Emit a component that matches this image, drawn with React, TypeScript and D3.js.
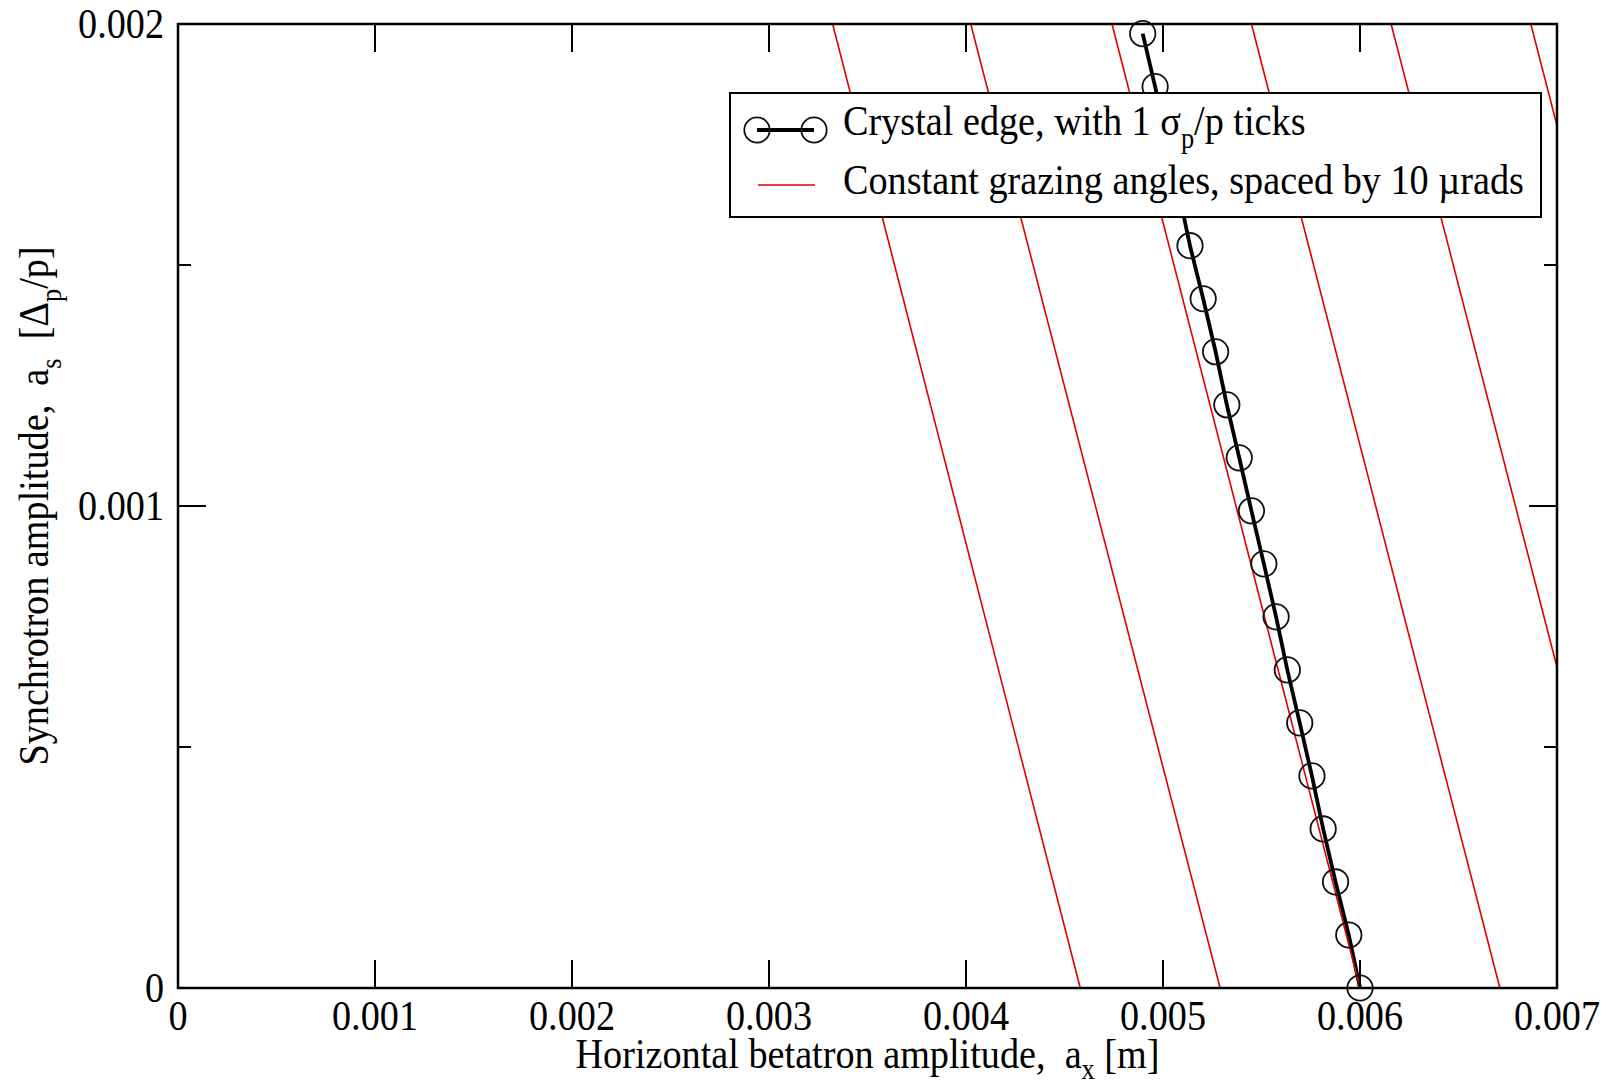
import React from "react";
import * as d3 from "d3";

const xTicks = [0, 0.001, 0.002, 0.003, 0.004, 0.005, 0.006, 0.007];
const xTickLabels = ["0", "0.001", "0.002", "0.003", "0.004", "0.005", "0.006", "0.007"];
const yMajorTicks = [0, 0.001, 0.002];
const yTickLabels = ["0", "0.001", "0.002"];
const yMinorTicks = [0.0005, 0.0015];

// Crystal edge, with 1 sigma_p/p ticks
const crystalX = [
  0.006, 0.005943, 0.005876, 0.005813, 0.005756, 0.005694, 0.005631, 0.005574, 0.005512, 0.005449,
  0.005387, 0.005324, 0.005267, 0.005204, 0.005137, 0.00508, 0.00502, 0.00496, 0.004897,
];
const crystalY = [
  0, 0.00011, 0.00022, 0.00033, 0.00044, 0.00055, 0.00066, 0.00077, 0.00088, 0.00099,
  0.0011, 0.00121, 0.00132, 0.00143, 0.00154, 0.00165, 0.00176, 0.00187, 0.00198,
];

// Constant grazing angles (x at a_s = 0 and at a_s = 0.002)
const grazingBottomX = [0.00458, 0.00529, 0.006, 0.00671, 0.00742, 0.00813];
const grazingTopX = [0.003323, 0.004024, 0.004741, 0.005449, 0.006158, 0.006867];
const grazingY = [0, 0.002];

const W = 1606;
const H = 1085;
const FONT = "'Liberation Serif', 'Times New Roman', serif";
const FS = 42;
const SUB = 29;
const SUBDY = 13;
const SX = 0.91;
const RED = "#e00000";

function T({
  x,
  y,
  anchor = "start",
  rotate = 0,
  children,
}: {
  x: number;
  y: number;
  anchor?: string;
  rotate?: number;
  children: React.ReactNode;
}) {
  return (
    <text
      transform={`translate(${x},${y}) rotate(${rotate}) scale(${SX},1)`}
      textAnchor={anchor}
      fontSize={FS}
      fill="#000"
      style={{ whiteSpace: "pre" }}
    >
      {children}
    </text>
  );
}

export default function App() {
  const x = d3.scaleLinear().domain([0, 0.007]).range([178, 1557]);
  const y = d3.scaleLinear().domain([0, 0.002]).range([988, 24]);
  const [x0, x1] = x.range();
  const [y0, y1] = y.range();

  const line = d3
    .line<[number, number]>()
    .x((d) => x(d[0]))
    .y((d) => y(d[1]));

  const crystalPts: [number, number][] = crystalX.map((v, i) => [v, crystalY[i]]);
  const grazingLines: [number, number][][] = grazingBottomX.map((b, i) => [
    [b, grazingY[0]],
    [grazingTopX[i], grazingY[1]],
  ]);

  const majorLen = 28;
  const minorLen = 13;

  return (
    <svg
      width={W}
      height={H}
      style={{ position: "absolute", left: 0, top: 0, display: "block", background: "#fff" }}
      fontFamily={FONT}
    >
      <rect x={0} y={0} width={W} height={H} fill="#fff" />
      <defs>
        <clipPath id="plotclip">
          <rect x={x0} y={y1} width={x1 - x0} height={y0 - y1} />
        </clipPath>
      </defs>

      {/* crystal edge line */}
      <path
        d={line(crystalPts) || ""}
        fill="none"
        stroke="#000"
        strokeWidth={3.8}
        clipPath="url(#plotclip)"
      />

      {/* grazing angle lines */}
      <g clipPath="url(#plotclip)">
        {grazingLines.map((pts, i) => (
          <path key={i} d={line(pts) || ""} fill="none" stroke={RED} strokeWidth={1.6} />
        ))}
      </g>

      {/* circles */}
      {crystalPts.map((p, i) => (
        <circle
          key={i}
          cx={x(p[0])}
          cy={y(p[1])}
          r={12.7}
          fill="none"
          stroke="#111"
          strokeWidth={1.8}
        />
      ))}

      {/* frame */}
      <rect x={x0} y={y1} width={x1 - x0} height={y0 - y1} fill="none" stroke="#000" strokeWidth={2.5} />

      {/* x ticks */}
      {xTicks.map((t, i) => (
        <g key={"xt" + i}>
          <line x1={x(t)} x2={x(t)} y1={y0} y2={y0 - majorLen} stroke="#000" strokeWidth={2} />
          <line x1={x(t)} x2={x(t)} y1={y1} y2={y1 + majorLen} stroke="#000" strokeWidth={2} />
          <T x={x(t)} y={1030} anchor="middle">
            {xTickLabels[i]}
          </T>
        </g>
      ))}

      {/* y ticks */}
      {yMajorTicks.map((t, i) => (
        <g key={"yt" + i}>
          <line x1={x0} x2={x0 + majorLen} y1={y(t)} y2={y(t)} stroke="#000" strokeWidth={2} />
          <line x1={x1} x2={x1 - majorLen} y1={y(t)} y2={y(t)} stroke="#000" strokeWidth={2} />
          <T x={164} y={y(t) + 14} anchor="end">
            {yTickLabels[i]}
          </T>
        </g>
      ))}
      {yMinorTicks.map((t, i) => (
        <g key={"ym" + i}>
          <line x1={x0} x2={x0 + minorLen} y1={y(t)} y2={y(t)} stroke="#000" strokeWidth={2} />
          <line x1={x1} x2={x1 - minorLen} y1={y(t)} y2={y(t)} stroke="#000" strokeWidth={2} />
        </g>
      ))}

      {/* x axis label */}
      <T x={(x0 + x1) / 2} y={1068} anchor="middle">
        <tspan>{"Horizontal betatron amplitude,  a"}</tspan>
        <tspan fontSize={SUB} dy={SUBDY - 2}>x</tspan>
        <tspan dy={-(SUBDY - 2)}>{" [m]"}</tspan>
      </T>

      {/* y axis label */}
      <T x={48} y={(y0 + y1) / 2} anchor="middle" rotate={-90}>
        <tspan>{"Synchrotron amplitude,  a"}</tspan>
        <tspan fontSize={SUB} dy={SUBDY}>s</tspan>
        <tspan dy={-SUBDY}>{"  [\u0394"}</tspan>
        <tspan fontSize={SUB} dy={SUBDY}>p</tspan>
        <tspan dy={-SUBDY}>{"/p]"}</tspan>
      </T>

      {/* legend */}
      <rect x={730} y={93} width={811} height={124} fill="#fff" stroke="#000" strokeWidth={2} />
      <line x1={757} x2={814} y1={130} y2={130} stroke="#000" strokeWidth={3.8} />
      <circle cx={757} cy={130} r={12.7} fill="none" stroke="#111" strokeWidth={1.8} />
      <circle cx={814} cy={130} r={12.7} fill="none" stroke="#111" strokeWidth={1.8} />
      <T x={843} y={135}>
        <tspan>{"Crystal edge, with 1 \u03C3"}</tspan>
        <tspan fontSize={SUB} dy={SUBDY}>p</tspan>
        <tspan dy={-SUBDY}>{"/p ticks"}</tspan>
      </T>
      <line x1={758} x2={815} y1={185} y2={185} stroke={RED} strokeWidth={1.6} />
      <T x={843} y={194}>{"Constant grazing angles, spaced by 10 \u00B5rads"}</T>
    </svg>
  );
}
